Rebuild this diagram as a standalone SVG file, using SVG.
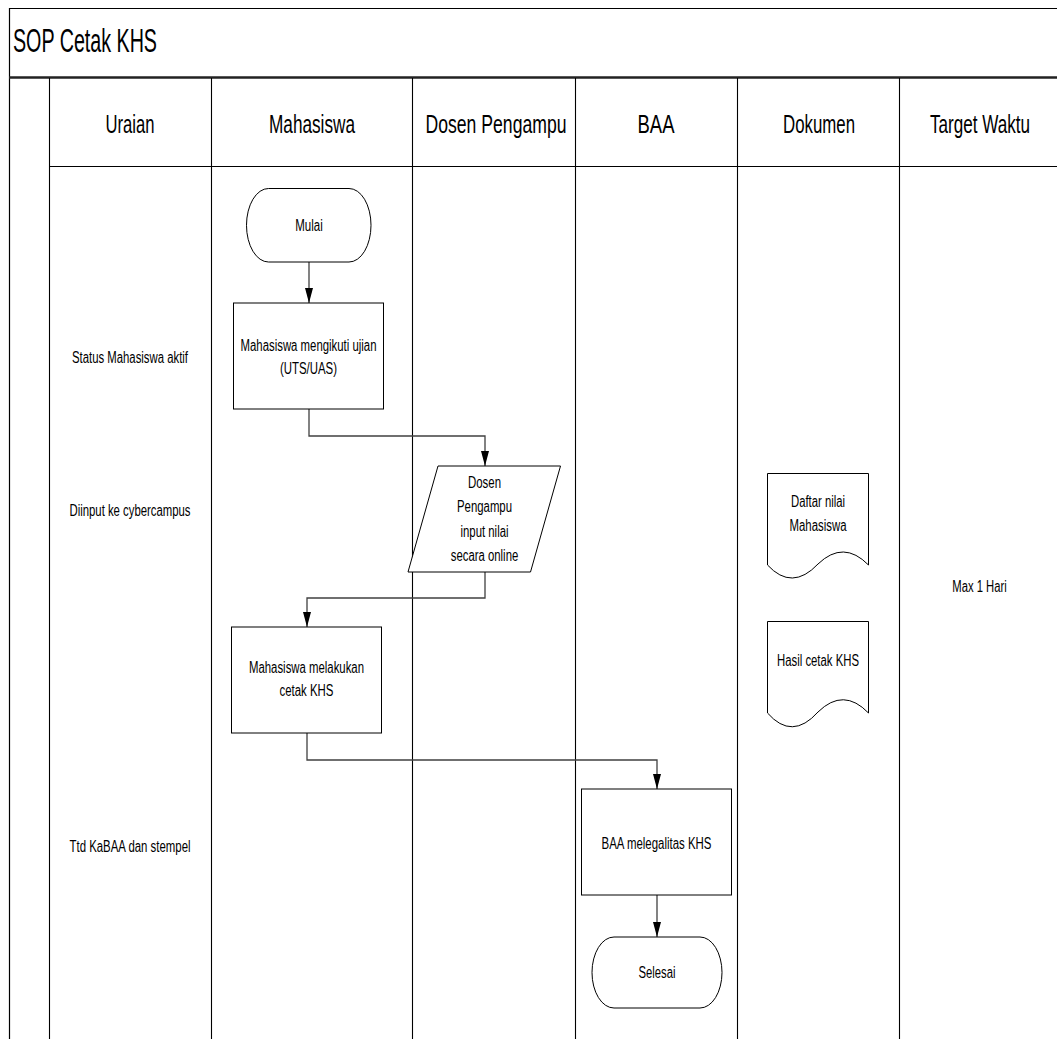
<svg xmlns="http://www.w3.org/2000/svg" width="1057" height="1039" viewBox="0 0 1057 1039">
  <style>
    .frame { stroke: #000; stroke-width: 1.2; fill: none; }
    .lane { stroke: #000; stroke-width: 1.1; fill: none; }
    .shape { stroke: #000; stroke-width: 1; fill: #fff; }
    .conn { stroke: #404040; stroke-width: 1.3; fill: none; marker-end: url(#arrow); }
    .link { stroke: #404040; stroke-width: 1.3; fill: none; }
    text { font-family: "Liberation Sans", Arial, sans-serif; fill: #000; }
    .t { font-size: 16px; text-anchor: middle; }
    .h { font-size: 25px; text-anchor: middle; }
    .title { font-size: 34px; }
  </style>
  <defs>
    <marker id="arrow" viewBox="0 0 15 8" refX="15" refY="4" markerWidth="15" markerHeight="8" markerUnits="userSpaceOnUse" orient="auto">
      <path d="M0,0 L15,4 L0,8 z" fill="#000"/>
    </marker>
  </defs>

  <rect width="1057" height="1039" fill="#fff"/>

  <!-- swimlane frame -->
  <g id="frame">
    <line class="frame" x1="9" y1="8.5" x2="1057" y2="8.5"/>
    <line class="frame" x1="9.5" y1="8" x2="9.5" y2="1039"/>
    <line x1="9" y1="77.5" x2="1057" y2="77.5" stroke="#222" stroke-width="2.6"/>
    <text class="title" x="13" y="52" textLength="144" lengthAdjust="spacingAndGlyphs">SOP Cetak KHS</text>
    <line class="lane" x1="49.5" y1="78" x2="49.5" y2="1039"/>
    <line class="lane" x1="211.5" y1="78" x2="211.5" y2="1039"/>
    <line class="lane" x1="412.5" y1="78" x2="412.5" y2="1039"/>
    <line class="lane" x1="575.5" y1="78" x2="575.5" y2="1039"/>
    <line class="lane" x1="737.5" y1="78" x2="737.5" y2="1039"/>
    <line class="lane" x1="899.5" y1="78" x2="899.5" y2="1039"/>
    <line class="lane" x1="49" y1="166.5" x2="1057" y2="166.5"/>
    <text class="h" x="130" y="133" textLength="49" lengthAdjust="spacingAndGlyphs">Uraian</text>
    <text class="h" x="312" y="133" textLength="86" lengthAdjust="spacingAndGlyphs">Mahasiswa</text>
    <text class="h" x="496" y="133" textLength="141" lengthAdjust="spacingAndGlyphs">Dosen Pengampu</text>
    <text class="h" x="656" y="133" textLength="37" lengthAdjust="spacingAndGlyphs">BAA</text>
    <text class="h" x="819" y="133" textLength="72" lengthAdjust="spacingAndGlyphs">Dokumen</text>
    <text class="h" x="980" y="133" textLength="100" lengthAdjust="spacingAndGlyphs">Target Waktu</text>
  </g>

  <!-- step descriptions -->
  <g id="uraian">
    <text class="t" x="130" y="363" textLength="116" lengthAdjust="spacingAndGlyphs">Status Mahasiswa aktif</text>
    <text class="t" x="130" y="516" textLength="121" lengthAdjust="spacingAndGlyphs">Diinput ke cybercampus</text>
    <text class="t" x="130" y="852" textLength="121" lengthAdjust="spacingAndGlyphs">Ttd KaBAA dan stempel</text>
  </g>

  <!-- connectors -->
  <g id="connectors">
    <line class="conn" x1="309" y1="262" x2="309" y2="303"/>
    <polyline class="conn" points="309,409 309,436 485,436 485,466"/>
    <polyline class="conn" points="485,572 485,598 307,598 307,627"/>
    <polyline class="conn" points="307,733 307,760 657,760 657,789"/>
    <line class="conn" x1="657" y1="895" x2="657" y2="937"/>
  </g>

  <g id="mulai">
    <rect class="shape" x="246.5" y="188.5" width="124.5" height="73.5" rx="22" ry="36.7"/>
    <text class="t" x="309" y="231" textLength="27.5" lengthAdjust="spacingAndGlyphs">Mulai</text>
  </g>

  <g id="ikuti-ujian">
    <rect class="shape" x="233.5" y="303" width="150" height="106"/>
    <text class="t" x="308.5" y="351" textLength="136" lengthAdjust="spacingAndGlyphs">Mahasiswa mengikuti ujian</text>
    <text class="t" x="308.5" y="374" textLength="57" lengthAdjust="spacingAndGlyphs">(UTS/UAS)</text>
  </g>

  <g id="input-nilai">
    <polygon class="shape" points="438,466 560.5,466 530.5,572 408,572"/>
    <text class="t" x="484.5" y="488" textLength="33" lengthAdjust="spacingAndGlyphs">Dosen</text>
    <text class="t" x="484.5" y="512" textLength="55" lengthAdjust="spacingAndGlyphs">Pengampu</text>
    <text class="t" x="484.5" y="536.5" textLength="48" lengthAdjust="spacingAndGlyphs">input nilai</text>
    <text class="t" x="484.5" y="560.5" textLength="67.5" lengthAdjust="spacingAndGlyphs">secara online</text>
  </g>

  <g id="cetak-khs">
    <rect class="shape" x="231.5" y="627" width="150" height="106"/>
    <text class="t" x="306.5" y="673" textLength="115" lengthAdjust="spacingAndGlyphs">Mahasiswa melakukan</text>
    <text class="t" x="306.5" y="696" textLength="54" lengthAdjust="spacingAndGlyphs">cetak KHS</text>
  </g>

  <g id="legalisasi">
    <rect class="shape" x="581.5" y="789" width="150" height="106"/>
    <text class="t" x="656.5" y="849" textLength="110" lengthAdjust="spacingAndGlyphs">BAA melegalitas KHS</text>
  </g>

  <g id="selesai">
    <rect class="shape" x="592" y="937" width="130" height="71" rx="22" ry="35.5"/>
    <text class="t" x="657" y="977.5" textLength="37" lengthAdjust="spacingAndGlyphs">Selesai</text>
  </g>

  <g id="daftar-nilai">
    <path class="shape" d="M767.5,565 V473.5 H868.5 V565 Q843.5,539.5 818,564 Q792,591.5 767.5,565 Z"/>
    <text class="t" x="818" y="507" textLength="54" lengthAdjust="spacingAndGlyphs">Daftar nilai</text>
    <text class="t" x="818" y="531" textLength="57" lengthAdjust="spacingAndGlyphs">Mahasiswa</text>
  </g>

  <g id="hasil-cetak">
    <path class="shape" d="M767.5,713 V621.5 H868.5 V713 Q843.5,687 818,712 Q792,741 767.5,713 Z"/>
    <text class="t" x="818" y="666" textLength="82" lengthAdjust="spacingAndGlyphs">Hasil cetak KHS</text>
  </g>

  <g id="target-waktu">
    <text class="t" x="979.5" y="592" textLength="54.5" lengthAdjust="spacingAndGlyphs">Max 1 Hari</text>
  </g>
</svg>
